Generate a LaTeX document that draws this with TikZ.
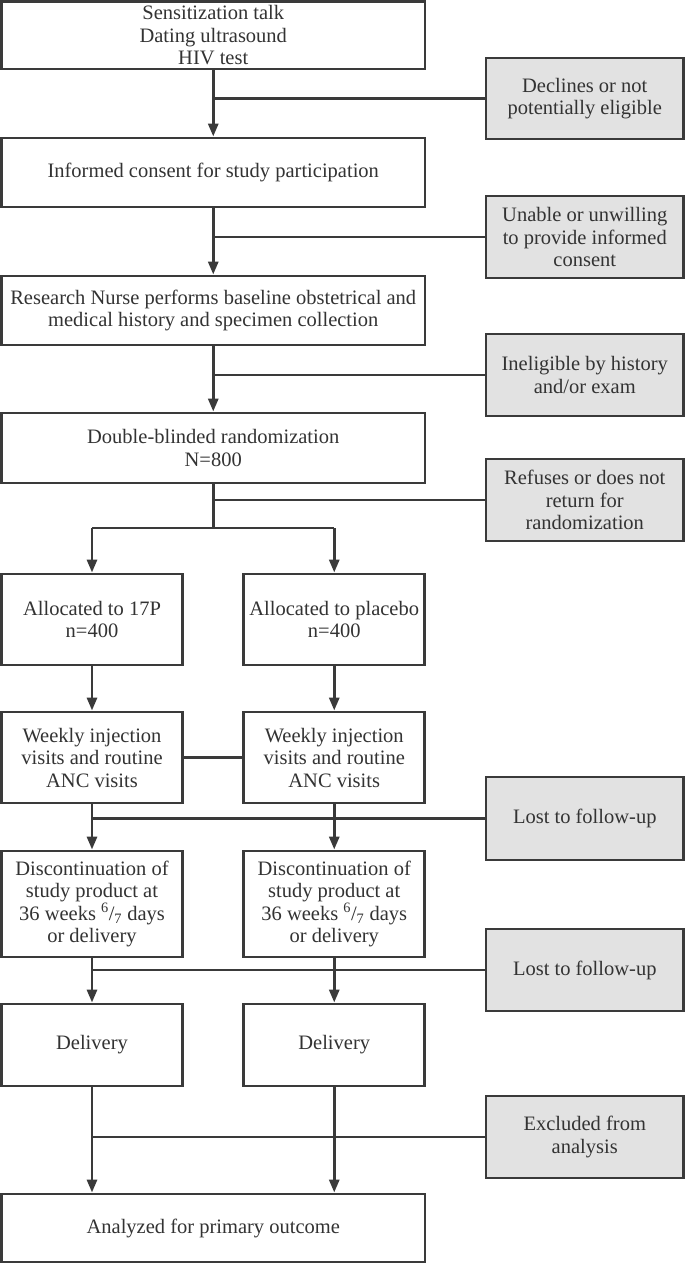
\documentclass[tikz,border=0pt]{standalone}
\usepackage{fontspec}
\setmainfont{Liberation Serif}
\usetikzlibrary{arrows.meta}
\definecolor{ink}{HTML}{3A3A3A}
\definecolor{txt}{HTML}{333333}
\definecolor{grayfill}{HTML}{E2E2E2}
\begin{document}
\begin{tikzpicture}[x=1pt,y=-1pt,
  font=\fontsize{20.5}{22.5}\selectfont,
  box/.style={draw=ink, line width=2.9pt, fill=white, inner sep=0pt, align=center, text=txt},
  sidebox/.style={box, fill=grayfill, minimum width=197.5pt},
  mainbox/.style={box, minimum width=423.5pt},
  colbox/.style={box, minimum width=181pt},
  conn/.style={draw=ink, line width=2.9pt},
  arr/.style={conn, -{Triangle[length=13pt,width=10pt]}}]
\useasboundingbox (0,0) rectangle (685,1264);
% main column
\node[mainbox, minimum height=67.5pt] (b1) at (213.25,35.25) {Sensitization talk\\Dating ultrasound\\HIV test};
\node[mainbox, minimum height=69pt] (b2) at (213.25,172.5) {Informed consent for study participation};
\node[mainbox, minimum height=69pt] (b3) at (213.25,310.5) {Research Nurse performs baseline obstetrical and\\medical history and specimen collection};
\node[mainbox, minimum height=70pt] (b4) at (213.25,448) {Double-blinded randomization\\N=800};
% side boxes
\node[sidebox, minimum height=81pt] (g1) at (584.75,98.5) {Declines or not\\potentially eligible};
\node[sidebox, minimum height=82pt] (g2) at (584.75,237) {Unable or unwilling\\to provide informed\\consent};
\node[sidebox, minimum height=82pt] (g3) at (584.75,375) {Ineligible by history\\and/or exam};
\node[sidebox, minimum height=82pt] (g4) at (584.75,500) {Refuses or does not\\return for\\randomization};
\node[sidebox, minimum height=83pt] (g5) at (584.75,818.5) {Lost to follow-up};
\node[sidebox, minimum height=82pt] (g6) at (584.75,970) {Lost to follow-up};
\node[sidebox, minimum height=82pt] (g7) at (584.75,1137) {Excluded from\\analysis};
% two columns
\node[colbox, minimum height=91pt] (a1) at (92,619.5) {Allocated to 17P\\n=400};
\node[colbox, minimum height=91pt] (a2) at (334.25,619.5) {Allocated to placebo\\n=400};
\node[colbox, minimum height=91pt] (w1) at (92,757.5) {Weekly injection\\visits and routine\\ANC visits};
\node[colbox, minimum height=91pt] (w2) at (334.25,757.5) {Weekly injection\\visits and routine\\ANC visits};
\node[colbox, minimum height=106pt] (d1) at (92,904) {Discontinuation of\\study product at\\36 weeks \textsuperscript{6}/\textsubscript{7} days\\or delivery};
\node[colbox, minimum height=106pt] (d2) at (334.25,904) {Discontinuation of\\study product at\\36 weeks \textsuperscript{6}/\textsubscript{7} days\\or delivery};
\node[colbox, minimum height=82pt] (e1) at (92,1045) {Delivery};
\node[colbox, minimum height=82pt] (e2) at (334.25,1045) {Delivery};
\node[mainbox, minimum height=68pt] (f) at (213.25,1228) {Analyzed for primary outcome};
% connectors main column
\draw[arr] (b1.south) -- (b2.north);
\draw[conn] (g1.west) -- (g1.west -| b1.south);
\draw[arr] (b2.south) -- (b3.north);
\draw[conn] (g2.west) -- (g2.west -| b2.south);
\draw[arr] (b3.south) -- (b4.north);
\draw[conn] (g3.west) -- (g3.west -| b3.south);
\coordinate (split) at (213.25,528);
\draw[conn] (b4.south) -- (split);
\draw[conn] (g4.west) -- (g4.west -| b4.south);
\draw[conn] (split -| a1.north) -- (split -| a2.north);
\draw[arr] (split -| a1.north) -- (a1.north);
\draw[arr] (split -| a2.north) -- (a2.north);
% columns
\draw[arr] (a1.south) -- (w1.north);
\draw[arr] (a2.south) -- (w2.north);
\draw[conn] (w1.east) -- (w2.west);
\draw[arr] (w1.south) -- (d1.north);
\draw[arr] (w2.south) -- (d2.north);
\draw[conn] (g5.west) -- (g5.west -| w1.south);
\draw[arr] (d1.south) -- (e1.north);
\draw[arr] (d2.south) -- (e2.north);
\draw[conn] (g6.west) -- (g6.west -| d1.south);
\draw[arr] (e1.south) -- (e1.south |- f.north);
\draw[arr] (e2.south) -- (e2.south |- f.north);
\draw[conn] (g7.west) -- (g7.west -| e1.south);
\end{tikzpicture}
\end{document}
